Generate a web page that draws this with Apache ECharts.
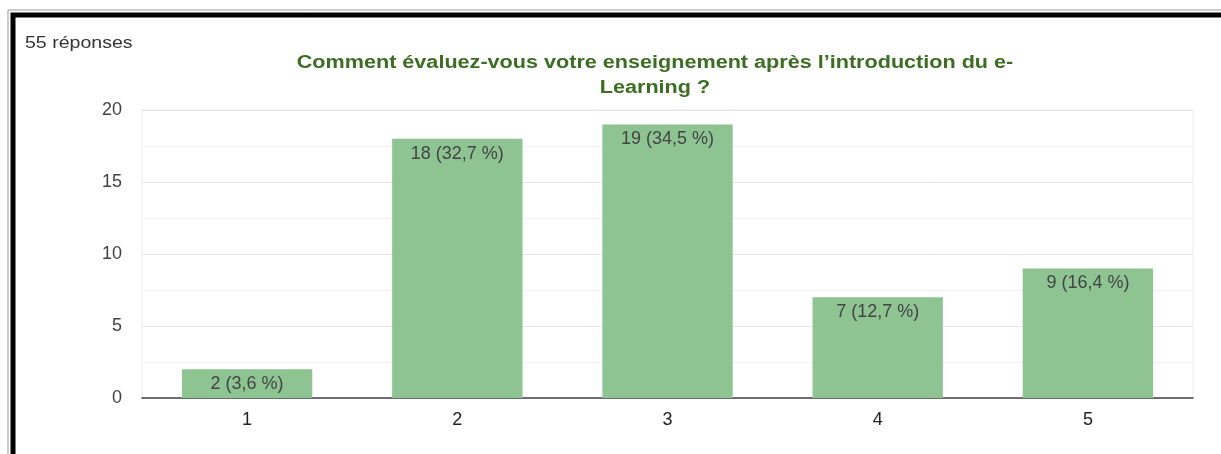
<!DOCTYPE html>
<html>
<head>
<meta charset="utf-8">
<script src="https://cdn.jsdelivr.net/npm/echarts@6/dist/echarts.min.js"></script>
<style>
  html, body { margin: 0; padding: 0; background: #fff; }
  #chart { width: 1221px; height: 454px; }
</style>
</head>
<body>
<div id="chart"></div>
<script>
// data
const categories = ['1', '2', '3', '4', '5'];
const counts = [2, 18, 19, 7, 9];
const percents = ['3,6', '32,7', '34,5', '12,7', '16,4'];
const yTicks = [0, 5, 10, 15, 20];

const titleLines = ['Comment évaluez-vous votre enseignement après l’introduction du e-', 'Learning ?'];
const responsesText = '55 réponses';

const font = '"Liberation Sans", Arial, sans-serif';

const chart = echarts.init(document.getElementById('chart'));

const option = {
    animation: false,
    textStyle: { fontFamily: font },
    grid: {
        left: 142, right: 28, top: 110, bottom: 56,
        show: true, borderColor: '#ececec', borderWidth: 1
    },
    xAxis: {
        type: 'category',
        data: categories,
        axisLine: { lineStyle: { color: '#444', width: 1.5 } },
        axisTick: { show: false },
        axisLabel: { color: '#222', fontSize: 18, margin: 13, fontFamily: font }
    },
    yAxis: {
        type: 'value',
        min: yTicks[0],
        max: yTicks[yTicks.length - 1],
        interval: 5,
        axisLine: { show: false },
        axisTick: { show: false },
        axisLabel: { color: '#444', fontSize: 18, margin: 20, fontFamily: font },
        splitLine: { lineStyle: { color: '#e6e6e6', width: 1 } },
        minorTick: { show: false, splitNumber: 2 },
        minorSplitLine: { show: true, lineStyle: { color: '#f2f2f2', width: 1 } }
    },
    series: [{
        type: 'bar',
        data: counts,
        barWidth: '62%',
        itemStyle: { color: '#8dc491' },
        label: {
            show: true,
            position: 'insideTop',
            distance: 6,
            color: '#444',
            fontSize: 18,
            fontFamily: font,
            formatter: p => p.value + ' (' + percents[p.dataIndex] + ' %)'
        }
    }],
    graphic: [
        // double frame on the left and top
        { type: 'rect', shape: { x: 8, y: 10, width: 1300, height: 500 }, style: { fill: 'none', stroke: '#999', lineWidth: 1 } },
        { type: 'rect', shape: { x: 13, y: 15, width: 1300, height: 500 }, style: { fill: 'none', stroke: '#000', lineWidth: 5 } },
        {
            type: 'text', x: 25, y: 35, scaleX: 1.15,
            style: { text: responsesText, fill: '#333', font: '17px ' + font }
        },
        {
            type: 'text', x: 655, y: 51, scaleX: 1.2,
            style: {
                text: titleLines.join('\n'),
                fill: '#3b6e22',
                font: 'bold 18px ' + font,
                textAlign: 'center',
                lineHeight: 25
            }
        }
    ]
};

chart.setOption(option);
</script>
</body>
</html>
